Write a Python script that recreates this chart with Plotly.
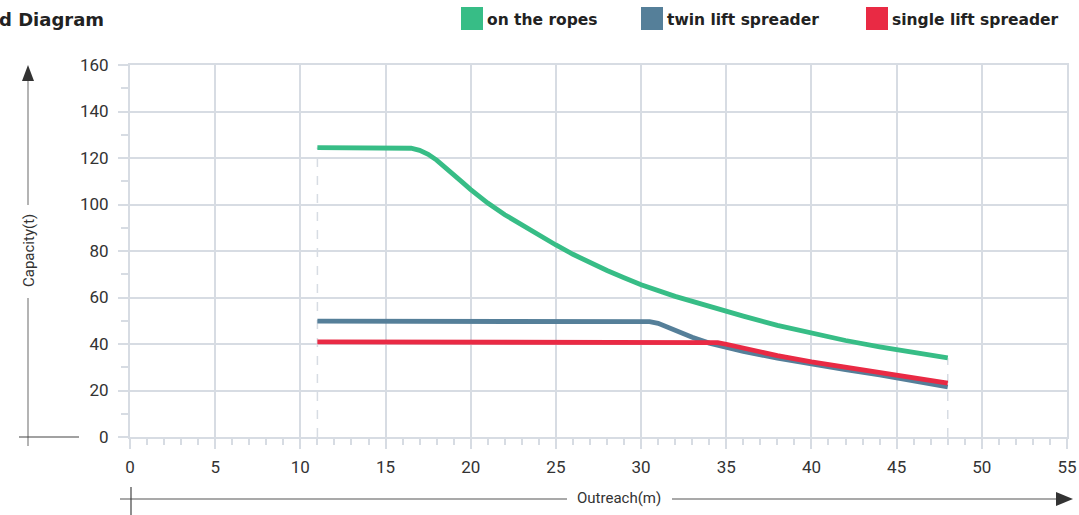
import plotly.graph_objects as go

# ---------------- data ----------------
outreach_ropes = [11, 16, 16.5, 17, 17.5, 18, 18.5, 19, 19.5, 20, 20.5, 21, 22, 23, 24, 25, 26, 27,
                  28, 29, 30, 32, 34, 36, 38, 40, 42, 44, 46, 48]
capacity_ropes = [124.5, 124.5, 124.2, 123.3, 121.6, 119.1, 116.1, 112.9, 109.6, 106.4, 103.4, 100.6,
                  95.6, 91.1, 86.8, 82.6, 78.6, 75.0, 71.6, 68.5, 65.5, 60.5, 56.0, 52.0, 48.0,
                  44.5, 41.5, 38.8, 36.3, 34.0]

outreach_twin = [11, 30, 30.5, 31, 31.5, 32, 32.5, 33, 34, 35, 36, 38, 40, 42, 44, 46, 48]
capacity_twin = [49.8, 49.8, 49.6, 48.9, 47.4, 45.8, 44.3, 42.9, 40.4, 38.4, 36.8, 33.9, 31.3,
                 29.0, 26.7, 24.3, 21.5]

outreach_single = [11, 34, 34.5, 35, 35.5, 36, 37, 38, 40, 42, 44, 46, 48]
capacity_single = [40.9, 40.9, 40.6, 39.9, 39.0, 38.1, 36.5, 35.0, 32.3, 30.0, 27.8, 25.5, 23.2]

series_names = ["on the ropes", "twin lift spreader", "single lift spreader"]
series_colors = ["#37BD86", "#557F99", "#E92A44"]

x_ticks = [0, 5, 10, 15, 20, 25, 30, 35, 40, 45, 50, 55]
y_ticks = [0, 20, 40, 60, 80, 100, 120, 140, 160]

title_text = "Load Diagram"
x_title = "Outreach(m)"
y_title = "Capacity(t)"

# ---------------- figure ----------------
GRID = "#D7DCE3"
TXT = "#333333"
FONT = "Roboto, DejaVu Sans Condensed, sans-serif"
BOLD = "DejaVu Sans, Roboto, sans-serif"

W, H = 1079, 515
ML, MR, MT, MB = 130, 12, 65, 78
PW, PH = W - ML - MR, H - MT - MB


def px(x):
    return (x - ML) / PW


def py(y):
    return (H - MB - y) / PH


fig = go.Figure()

# dashed boundary markers at start/end outreach
for xv, yv in [(outreach_ropes[0], capacity_ropes[0]), (outreach_ropes[-1], capacity_ropes[-1])]:
    fig.add_trace(go.Scatter(x=[xv, xv], y=[0, yv], mode="lines",
                             line=dict(color=GRID, width=1.5, dash="dash"),
                             hoverinfo="skip", showlegend=False))

fig.add_trace(go.Scatter(x=outreach_twin, y=capacity_twin, mode="lines", name=series_names[1],
                         line=dict(color=series_colors[1], width=4.8), showlegend=False))
fig.add_trace(go.Scatter(x=outreach_single, y=capacity_single, mode="lines", name=series_names[2],
                         line=dict(color=series_colors[2], width=4.8), showlegend=False))
fig.add_trace(go.Scatter(x=outreach_ropes, y=capacity_ropes, mode="lines", name=series_names[0],
                         line=dict(color=series_colors[0], width=4.8), showlegend=False))

fig.update_xaxes(range=[x_ticks[0], x_ticks[-1]], tickvals=x_ticks, showgrid=True, gridcolor=GRID,
                 gridwidth=2, ticks="outside", ticklen=10, tickwidth=2, tickcolor=GRID,
                 minor=dict(dtick=1, ticks="outside", ticklen=6, tickwidth=2, tickcolor=GRID,
                            showgrid=False),
                 showline=True, linecolor=GRID, linewidth=2, mirror=True, zeroline=False,
                 tickfont=dict(family=FONT, size=17, color=TXT), ticklabelstandoff=4,
                 automargin=False, ticklabeloverflow="allow", fixedrange=True)
fig.update_yaxes(range=[y_ticks[0], y_ticks[-1]], tickvals=y_ticks, showgrid=True, gridcolor=GRID,
                 gridwidth=2, ticks="outside", ticklen=10, tickwidth=2, tickcolor=GRID,
                 minor=dict(dtick=10, ticks="outside", ticklen=7, tickwidth=2, tickcolor=GRID,
                            showgrid=False),
                 showline=True, linecolor=GRID, linewidth=2, mirror=True, zeroline=False,
                 tickfont=dict(family=FONT, size=17, color=TXT), ticklabelstandoff=6,
                 automargin=False, ticklabeloverflow="allow", fixedrange=True)

shapes = []
annotations = []
LC = "#8C8C8C"
DC = "#444444"

# y-axis arrow
shapes.append(dict(type="line", xref="paper", yref="paper", x0=px(28), x1=px(28), y0=py(446), y1=py(298),
                   line=dict(color=LC, width=1.3)))
shapes.append(dict(type="line", xref="paper", yref="paper", x0=px(28), x1=px(28), y0=py(205), y1=py(78),
                   line=dict(color=LC, width=1.3)))
shapes.append(dict(type="line", xref="paper", yref="paper", x0=px(19), x1=px(79), y0=py(437), y1=py(437),
                   line=dict(color=DC, width=1.2)))
shapes.append(dict(type="path", xref="paper", yref="paper",
                   path=f"M {px(28)} {py(65)} L {px(22)} {py(81)} L {px(34)} {py(81)} Z",
                   fillcolor="#333333", line=dict(width=0)))

# x-axis arrow
shapes.append(dict(type="line", xref="paper", yref="paper", x0=px(120), x1=px(567), y0=py(499), y1=py(499),
                   line=dict(color=LC, width=1.3)))
shapes.append(dict(type="line", xref="paper", yref="paper", x0=px(672), x1=px(1058), y0=py(499), y1=py(499),
                   line=dict(color=LC, width=1.3)))
shapes.append(dict(type="line", xref="paper", yref="paper", x0=px(131), x1=px(131), y0=py(487), y1=py(515),
                   line=dict(color=DC, width=1.2)))
shapes.append(dict(type="path", xref="paper", yref="paper",
                   path=f"M {px(1073)} {py(499)} L {px(1056)} {py(492)} L {px(1056)} {py(506)} Z",
                   fillcolor="#333333", line=dict(width=0)))

annotations.append(dict(text=y_title, xref="paper", yref="paper", x=px(29), y=py(251), textangle=-90,
                        showarrow=False, xanchor="center", yanchor="middle",
                        font=dict(family=FONT, size=15, color=TXT)))
annotations.append(dict(text=x_title, xref="paper", yref="paper", x=px(619), y=py(498),
                        showarrow=False, xanchor="center", yanchor="middle",
                        font=dict(family=FONT, size=15, color=TXT)))

# title (cut off on the left as in the reference)
annotations.append(dict(text=f"<b>{title_text}</b>", xref="paper", yref="paper", x=px(106), y=py(19),
                        showarrow=False, xanchor="right", yanchor="middle",
                        font=dict(family=BOLD, size=18, color="#222222")))

# custom legend
legend_sq = [461, 641, 866]
for name, color, x0 in zip(series_names, series_colors, legend_sq):
    shapes.append(dict(type="rect", xref="paper", yref="paper", x0=px(x0), x1=px(x0 + 22),
                       y0=py(30), y1=py(7), fillcolor=color, line=dict(width=0)))
    annotations.append(dict(text=f"<b>{name}</b>", xref="paper", yref="paper", x=px(x0 + 24), y=py(20),
                            showarrow=False, xanchor="left", yanchor="middle",
                            font=dict(family=BOLD, size=15.5, color="#222222")))

fig.update_layout(width=W, height=H, margin=dict(l=ML, r=MR, t=MT, b=MB, autoexpand=False),
                  autosize=False, paper_bgcolor="white", plot_bgcolor="white",
                  shapes=shapes, annotations=annotations, showlegend=False)

fig.write_html("out.html", config={"displayModeBar": False, "responsive": False},
               post_script="document.body.style.margin='0';document.body.style.overflow='hidden';")
